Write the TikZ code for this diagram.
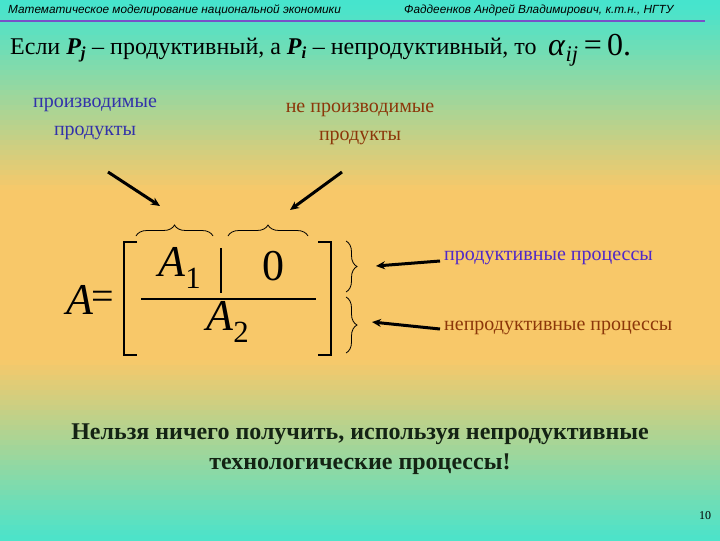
\documentclass[tikz,border=0pt]{standalone}
\usepackage{fontspec}
\setmainfont{Liberation Serif}
\newfontfamily\hdr{Liberation Sans}
\usetikzlibrary{decorations.pathreplacing,arrows.meta}
\definecolor{turq}{RGB}{70,228,205}
\definecolor{orng}{RGB}{248,200,105}
\definecolor{blu}{RGB}{50,50,170}
\definecolor{brn}{RGB}{140,55,10}
\definecolor{vio}{RGB}{80,40,200}
\definecolor{purp}{RGB}{120,80,200}
\begin{document}
\begin{tikzpicture}[x=1pt,y=-1pt,
  lbl/.style={font=\fontsize{20}{28}\selectfont,align=center,inner sep=0},
  arr/.style={line width=3pt,-{Stealth[length=9pt,width=8pt]}},
  brc/.style={decorate,decoration={brace,amplitude=11pt},line width=0.8pt},
  big/.style={font=\fontsize{44}{48}\selectfont\itshape,inner sep=0}]
\foreach \i in {0,...,107}{
  \pgfmathtruncatemacro{\p}{max(0,min(100,100-(abs(\i*5+2.5-275)-85)/1.85))}
  \fill[orng!\p!turq] (0,\i*5) rectangle (720,\i*5+5.6);
}
\useasboundingbox (0,0) rectangle (720,540);
\node[anchor=west,font=\hdr\itshape\fontsize{11.8}{13}\selectfont,inner sep=0] (h1) at (8,10) {Математическое моделирование национальной экономики};
\node[anchor=west,font=\hdr\itshape\fontsize{11.8}{13}\selectfont,inner sep=0] (h2) at (404,10) {Фаддеенков Андрей Владимирович, к.т.н., НГТУ};
\draw[purp,line width=2pt] (0,21) -- (705,21);
\node[anchor=west,font=\fontsize{24}{28}\selectfont,inner sep=0] (t) at (10,50) {Если \textbf{\itshape P\textsubscript{j}} – продуктивный, а \textbf{\itshape P\textsubscript{i}} – непродуктивный, то};
\node[anchor=west,font=\fontsize{32}{36}\selectfont,inner sep=0] (al) at (548,50) {\textit{α}\textsubscript{\textit{ij}}\,=\,0.};
\node[lbl,text=blu] (l1) at (95,119) {производимые\\продукты};
\node[lbl,text=brn] (l2) at (360,124) {не производимые\\продукты};
\draw[arr] (108,172) -- (160,206);
\draw[arr] (342,172) -- (290,210);
\draw[brc] (136,236) -- (213,236);
\draw[brc] (228,236) -- (308,236);
% matrix
\node[big] (A) at (80,300) {A};
\node[font=\fontsize{40}{44}\selectfont,inner sep=0] (eq) at (103,300) {=};
\draw[line width=1.2pt] (137,242) -- (124,242) -- (124,355) -- (137,355);
\draw[line width=1.2pt] (318,242) -- (331,242) -- (331,355) -- (318,355);
\draw[line width=1.2pt] (221,248) -- (221,293);
\draw[line width=1.2pt] (141,299) -- (316,299);
\node[big] (a1) at (180,268) {A\textsubscript{\upshape 1}};
\node[font=\fontsize{44}{48}\selectfont,inner sep=0] (z) at (273,266) {0};
\node[big] (a2) at (228,322) {A\textsubscript{\upshape 2}};
\draw[brc] (346,241) -- (346,292);
\draw[brc] (346,297) -- (346,353);
\node[lbl,anchor=west,text=vio] (p1) at (444,258) {продуктивные процессы};
\node[lbl,anchor=west,text=brn] (p2) at (444,328) {непродуктивные процессы};
\draw[arr] (440,261) -- (376,266);
\draw[arr] (440,329) -- (372,322);
\node[font=\bfseries\fontsize{24}{30}\selectfont,align=center,text={rgb,255:red,20;green,35;blue,20}] (c) at (360,449) {Нельзя ничего получить, используя непродуктивные\\технологические процессы!};
\node[font=\fontsize{12}{13}\selectfont,inner sep=0] (n) at (705,516) {10};
\end{tikzpicture}
\end{document}
